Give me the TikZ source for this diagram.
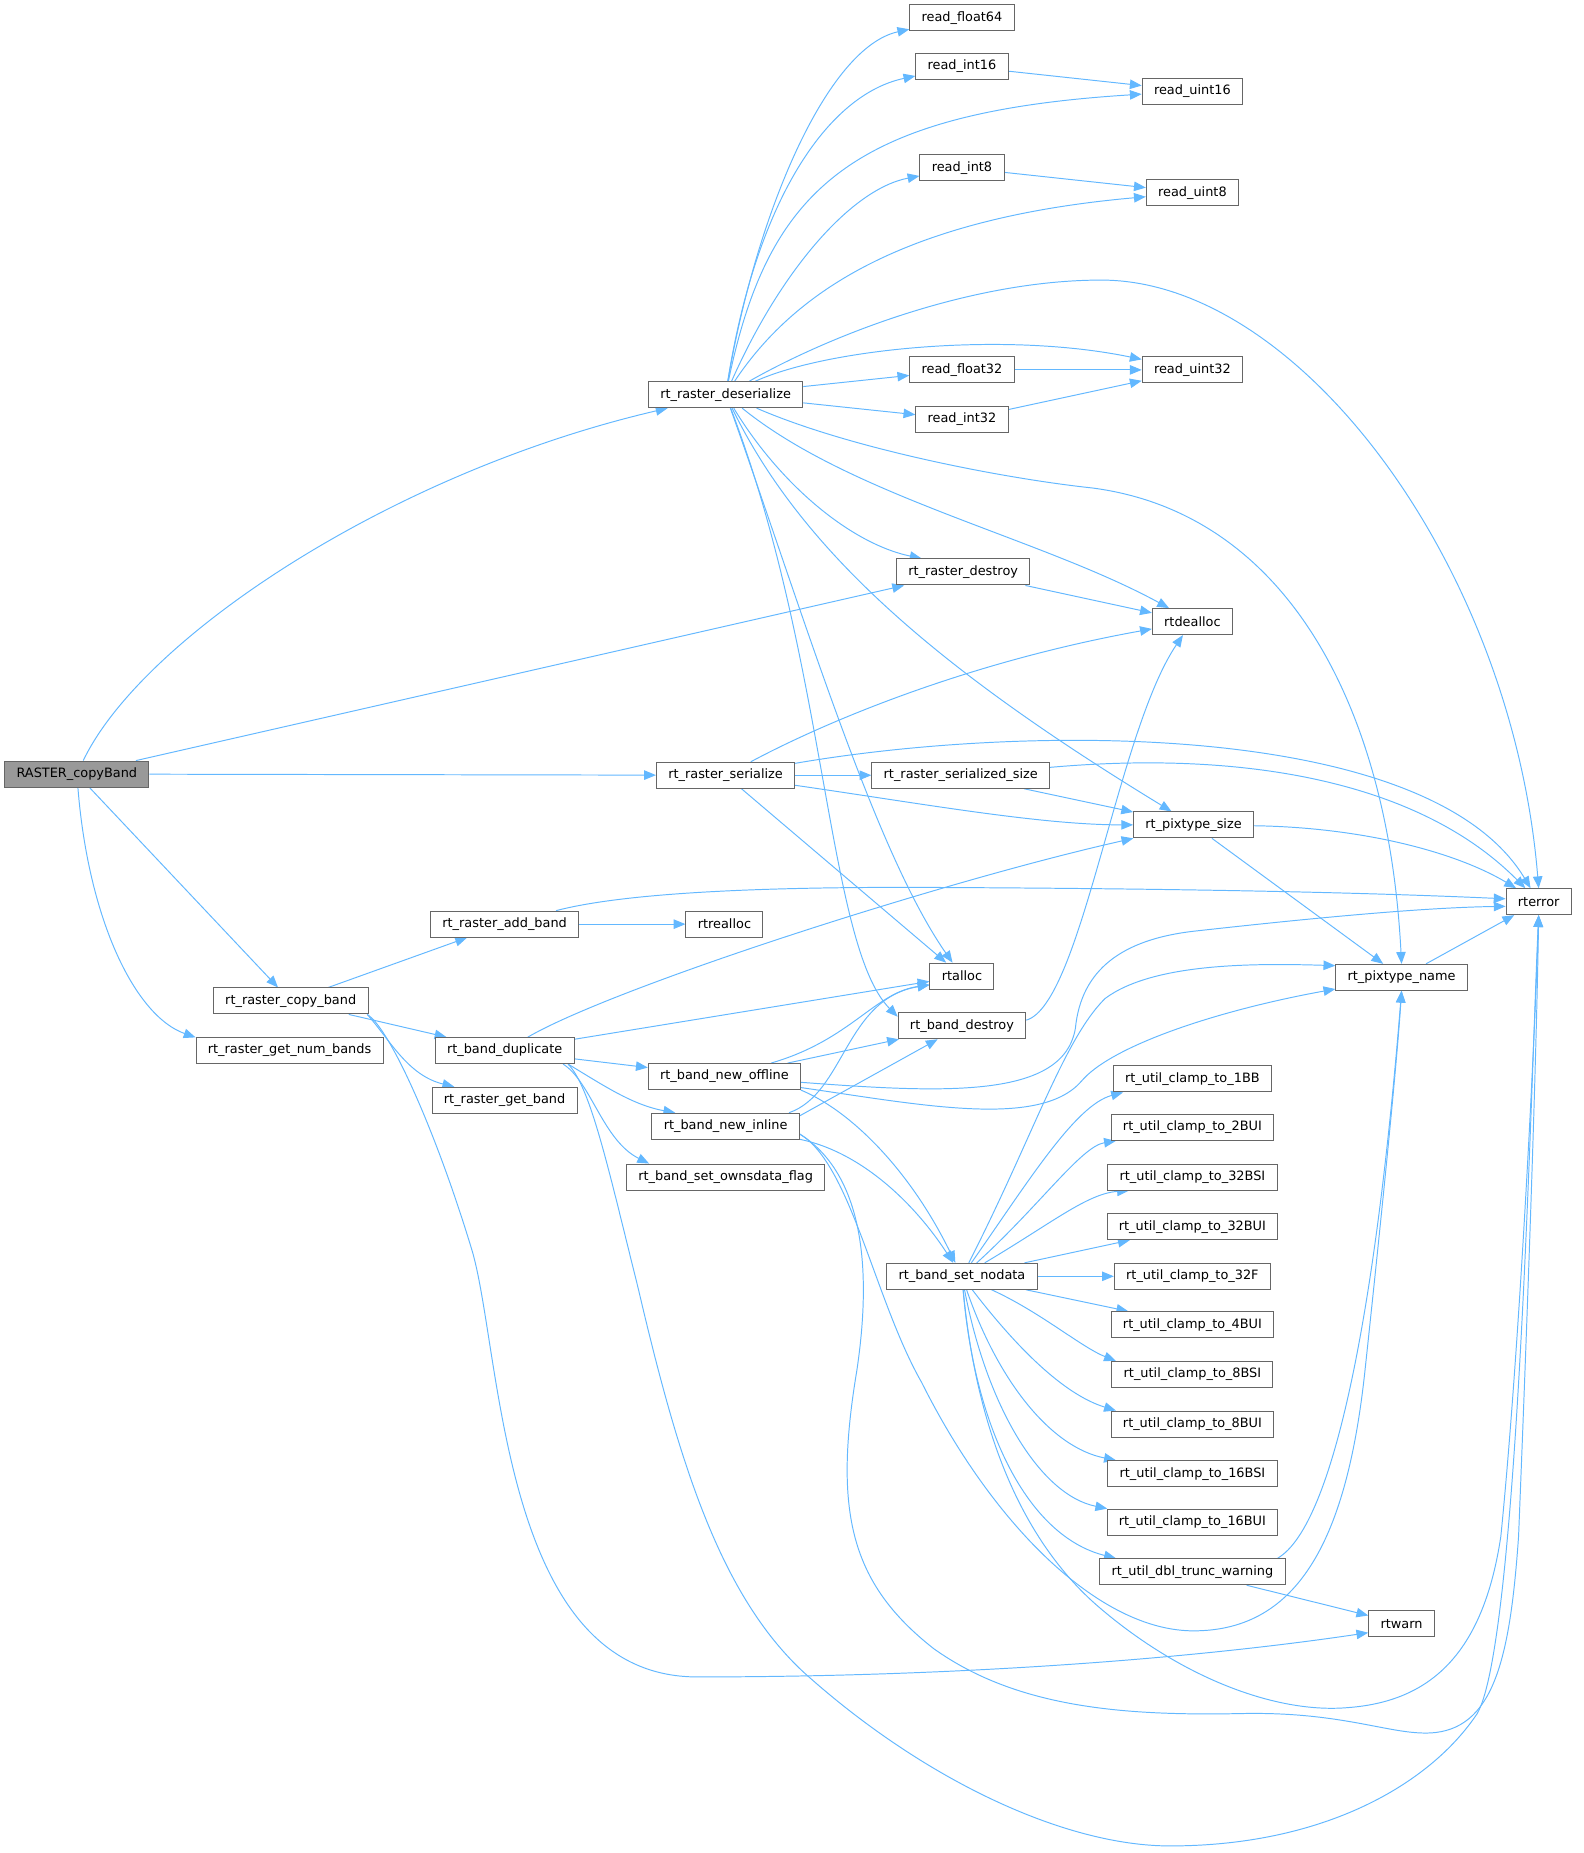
\documentclass[tikz,border=0pt]{standalone}
\usepackage{fontspec}
\setmainfont{DejaVu Sans}
\usepackage{tikz}
\usetikzlibrary{arrows.meta,backgrounds}
\definecolor{EdgeBlue}{HTML}{63B8FF}
\definecolor{BoxLine}{HTML}{666666}
\definecolor{RootGray}{HTML}{999999}
\tikzset{
  fn/.style={rectangle,draw=BoxLine,line width=0.7pt,fill=white,
             minimum height=6.6mm,inner xsep=3mm,inner ysep=0pt},
  root/.style={fn,fill=RootGray},
  call/.style={-{Triangle[length=3mm,width=2.4mm]},EdgeBlue,line width=0.7pt},
}
\begin{document}
\begin{tikzpicture}[x=0.3mm,y=-0.3mm,font=\fontsize{9.3}{11}\selectfont]
  \useasboundingbox (0,0) rectangle (1340,1568);
  \node[root] (R) at (65,655) {RASTER\_copyBand};
  \node[fn] (des) at (614,334) {rt\_raster\_deserialize};
  \node[fn] (rf64) at (814,15) {read\_float64};
  \node[fn] (ri16) at (814,56) {read\_int16};
  \node[fn] (ru16) at (1009,77) {read\_uint16};
  \node[fn] (ri8) at (814,142) {read\_int8};
  \node[fn] (ru8) at (1009,163) {read\_uint8};
  \node[fn] (rf32) at (814,313) {read\_float32};
  \node[fn] (ru32) at (1009,313) {read\_uint32};
  \node[fn] (ri32) at (814,355) {read\_int32};
  \node[fn] (rdes) at (815,484) {rt\_raster\_destroy};
  \node[fn] (dealloc) at (1009,526) {rtdealloc};
  \node[fn] (ser) at (614,656) {rt\_raster\_serialize};
  \node[fn] (sersz) at (813,656) {rt\_raster\_serialized\_size};
  \node[fn] (pxsz) at (1010,698) {rt\_pixtype\_size};
  \node[fn] (err) at (1302,763) {rterror};
  \node[fn] (addb) at (427,782) {rt\_raster\_add\_band};
  \node[fn] (realloc) at (613,782) {rtrealloc};
  \node[fn] (alloc) at (814,826) {rtalloc};
  \node[fn] (pxnm) at (1186,827) {rt\_pixtype\_name};
  \node[fn] (rcb) at (246,847) {rt\_raster\_copy\_band};
  \node[fn] (bdest) at (814,868) {rt\_band\_destroy};
  \node[fn] (bdup) at (427,889) {rt\_band\_duplicate};
  \node[fn] (numb) at (245,889) {rt\_raster\_get\_num\_bands};
  \node[fn] (offl) at (613,911) {rt\_band\_new\_offline};
  \node[fn] (getb) at (427,931) {rt\_raster\_get\_band};
  \node[fn] (inl) at (614,953) {rt\_band\_new\_inline};
  \node[fn] (owns) at (614,996) {rt\_band\_set\_ownsdata\_flag};
  \node[fn] (nodata) at (814,1080) {rt\_band\_set\_nodata};
  \foreach \nm/\yy in {1BB/913,2BUI/954,32BSI/996,32BUI/1038,32F/1080,4BUI/1121,8BSI/1163,8BUI/1205,16BSI/1247,16BUI/1288}
    \node[fn] (c\nm) at (1009,\yy) {rt\_util\_clamp\_to\_\nm};
  \node[fn] (trunc) at (1009,1330) {rt\_util\_dbl\_trunc\_warning};
  \node[fn] (warn) at (1186,1374) {rtwarn};

  \begin{scope}[on background layer]
    \fill[white] (0,0) rectangle (1340,1568);
    \draw[call] (R) .. controls (120,540) and (330,400) .. (des);
    \draw[call] (R) -- (rdes);
    \draw[call] (R) -- (ser);
    \draw[call] (R) -- (rcb);
    \draw[call] (R) .. controls (75,780) and (115,860) .. (numb.172);

    \draw[call] (des) .. controls (640,180) and (700,40) .. (rf64);
    \draw[call] (des) .. controls (640,170) and (700,80) .. (ri16);
    \draw[call] (des) .. controls (650,160) and (720,95) .. (ru16);
    \draw[call] (des) .. controls (660,230) and (720,160) .. (ri8);
    \draw[call] (des) .. controls (670,250) and (760,185) .. (ru8);
    \draw[call] (des) .. controls (700,285) and (820,237) .. (932,237)
                      .. controls (1100,237) and (1280,480) .. (err.north);
    \draw[call] (des) .. controls (700,295) and (850,280) .. (ru32);
    \draw[call] (des) -- (rf32);
    \draw[call] (des) -- (ri32);
    \draw[call] (des) .. controls (660,410) and (720,460) .. (rdes.162);
    \draw[call] (des) .. controls (720,420) and (880,455) .. (dealloc.150);
    \draw[call] (des) .. controls (720,380) and (850,405) .. (925,413)
                      .. controls (1090,435) and (1175,600) .. (pxnm.north);
    \draw[call] (des) .. controls (680,470) and (800,570) .. (pxsz);
    \draw[call] (des) .. controls (680,520) and (740,720) .. (alloc);
    \draw[call] (des) .. controls (700,560) and (700,800) .. (bdest.172);

    \draw[call] (ri16) -- (ru16);
    \draw[call] (ri8) -- (ru8);
    \draw[call] (rf32) -- (ru32);
    \draw[call] (ri32) -- (ru32);
    \draw[call] (rdes) -- (dealloc);

    \draw[call] (ser) .. controls (700,610) and (820,560) .. (dealloc);
    \draw[call] (ser) .. controls (870,612) and (1210,610) .. (err);
    \draw[call] (ser) -- (sersz);
    \draw[call] (ser) .. controls (780,680) and (880,698) .. (pxsz);
    \draw[call] (ser) -- (alloc);
    \draw[call] (sersz) .. controls (1050,635) and (1200,660) .. (err);
    \draw[call] (sersz) -- (pxsz);
    \draw[call] (pxsz) .. controls (1150,700) and (1230,720) .. (err);
    \draw[call] (pxsz) -- (pxnm);
    \draw[call] (pxnm) -- (err);

    \draw[call] (rcb) -- (addb);
    \draw[call] (rcb) -- (bdup);
    \draw[call] (rcb.-10) .. controls (330,880) and (345,910) .. (getb.165);
    \draw[call] (rcb.-10) .. controls (330,870) and (370,960) .. (400,1060)
                          .. controls (425,1150) and (425,1419) .. (590,1419)
                          .. controls (800,1419) and (1000,1405) .. (warn.195);
    \draw[call] (addb) .. controls (530,755) and (650,750) .. (800,751)
                       .. controls (1000,752) and (1150,755) .. (err.175);
    \draw[call] (addb) -- (realloc);

    \draw[call] (bdup) .. controls (520,835) and (800,745) .. (pxsz);
    \draw[call] (bdup) -- (alloc);
    \draw[call] (bdup) -- (offl);
    \draw[call] (bdup.-12) .. controls (510,918) and (535,935) .. (inl.165);
    \draw[call] (bdup.-13) .. controls (500,915) and (510,965) .. (owns.170);
    \draw[call] (bdup.-12) .. controls (500,920) and (515,990) .. (540,1090)
                           .. controls (575,1240) and (610,1350) .. (680,1415)
                           .. controls (780,1505) and (900,1562) .. (990,1562)
                           .. controls (1120,1562) and (1210,1510) .. (1250,1450)
                           .. controls (1285,1390) and (1296,900) .. (err.south);

    \draw[call] (offl) .. controls (720,880) and (740,840) .. (alloc.195);
    \draw[call] (offl) -- (bdest);
    \draw[call] (offl) .. controls (800,925) and (900,930) .. (910,870)
                       .. controls (915,820) and (950,795) .. (1010,788)
                       .. controls (1100,778) and (1200,768) .. (err.188);
    \draw[call] (offl) .. controls (780,935) and (880,955) .. (915,915)
                       .. controls (940,885) and (1030,855) .. (pxnm.190);
    \draw[call] (offl.-10) .. controls (720,940) and (770,990) .. (nodata);

    \draw[call] (inl.12) .. controls (715,925) and (715,845) .. (alloc.195);
    \draw[call] (inl.8) -- (bdest);
    \draw[call] (inl.-10) .. controls (730,975) and (775,1020) .. (nodata);
    \draw[call] (inl.-6) .. controls (720,985) and (740,1100) .. (780,1170)
                         .. controls (840,1290) and (930,1380) .. (1010,1380)
                         .. controls (1100,1380) and (1140,1300) .. (1155,1160)
                         .. controls (1170,1020) and (1182,900) .. (pxnm.south);
    \draw[call] (inl.-6) .. controls (725,990) and (740,1060) .. (725,1160)
                         .. controls (705,1280) and (720,1340) .. (790,1395)
                         .. controls (860,1445) and (950,1452) .. (1050,1450)
                         .. controls (1140,1448) and (1180,1470) .. (1215,1466)
                         .. controls (1265,1460) and (1278,1400) .. (1285,1300)
                         .. controls (1293,1100) and (1300,900) .. (err.south);
    \draw[call] (bdest.5) .. controls (915,850) and (945,620) .. (dealloc.-125);

    \draw[call] (nodata) .. controls (875,960) and (900,880) .. (935,845)
                         .. controls (975,815) and (1060,815) .. (pxnm.170);
    \draw[call] (nodata) .. controls (870,1000) and (910,935) .. (c1BB.191);
    \draw[call] (nodata) .. controls (880,1020) and (915,970) .. (c2BUI.190);
    \draw[call] (nodata) .. controls (890,1035) and (920,1010) .. (c32BSI.192);
    \draw[call] (nodata) -- (c32BUI);
    \draw[call] (nodata) -- (c32F);
    \draw[call] (nodata) -- (c4BUI);
    \draw[call] (nodata) .. controls (880,1110) and (915,1140) .. (c8BSI.170);
    \draw[call] (nodata) .. controls (860,1140) and (900,1180) .. (c8BUI.170);
    \draw[call] (nodata) .. controls (845,1170) and (890,1225) .. (c16BSI.170);
    \draw[call] (nodata) .. controls (835,1190) and (880,1265) .. (c16BUI.171);
    \draw[call] (nodata) .. controls (825,1210) and (870,1300) .. (trunc.170);
    \draw[call] (nodata) .. controls (825,1200) and (860,1300) .. (930,1360)
                         .. controls (1000,1420) and (1080,1450) .. (1140,1445)
                         .. controls (1210,1440) and (1255,1400) .. (1270,1300)
                         .. controls (1285,1150) and (1298,900) .. (err.south);
    \draw[call] (trunc.9) .. controls (1130,1290) and (1165,1100) .. (pxnm.south);
    \draw[call] (trunc) -- (warn);
  \end{scope}
\end{tikzpicture}
\end{document}
